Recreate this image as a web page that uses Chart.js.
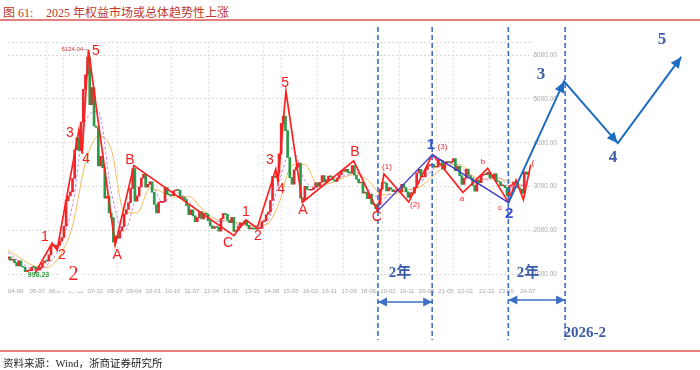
<!DOCTYPE html>
<html><head><meta charset="utf-8">
<script src="https://cdn.jsdelivr.net/npm/chart.js@4.4.1/dist/chart.umd.min.js"></script>
<style>
html,body{margin:0;padding:0;background:#fff;}
#wrap{position:relative;width:700px;height:370px;overflow:hidden;background:#fff;}
.t{position:absolute;top:3px;font:12px "Liberation Serif","Noto Sans CJK SC",serif;color:#c0392b;white-space:pre;}
#rule1{position:absolute;left:0;top:19px;width:700px;height:2px;background:#e88080;}
#rule2{position:absolute;left:0;top:350px;width:700px;height:2px;background:#e88080;}
#src{position:absolute;left:3px;top:355px;font:10.5px "Liberation Serif","Noto Sans CJK SC",serif;color:#222;}
canvas{position:absolute;left:0;top:0;}
</style></head>
<body><div id="wrap">
<div class="t" style="left:3px">图 61:</div>
<div class="t" style="left:46px">2025 年权益市场或总体趋势性上涨</div>
<div id="rule1"></div>
<canvas id="c" width="700" height="370"></canvas>
<div id="rule2"></div>
<div id="src">资料来源：Wind，浙商证券研究所</div>
</div>
<script>
// ---- data ----
const tickLabels = ['04-09','05-07','06-04','07-01','07-10','08-07','09-04','10-01','10-10','11-07','12-04','13-01','13-11','14-08','15-05','16-02','16-11','17-08','18-05','19-02','19-11','20-08','21-05','22-02','22-12','23-09','24-07'];
const yTicks = [1000,2000,3000,4000,5000,6000,6300];
const gridMonths = [18,26,51,76,93,119,127,144,156,174,182,199,207,224];
const firstOpen = 1342;
// monthly closes, 2004-09 .. 2024-11
const closes = [
1397,1320,1341,1266,
1192,1306,1181,1159,1061,1081,1083,1163,1156,1093,1099,1161,
1258,1299,1298,1440,1641,1672,1613,1659,1752,1838,2099,2676,
2786,2881,3184,3841,4110,3821,4471,5219,5552,5955,4872,5262,
4383,4349,3473,3693,3433,2736,2776,2397,2294,1729,1871,1821,
1991,2083,2373,2478,2633,2959,3412,2668,2779,2996,3195,3277,
2989,3052,3109,2871,2592,2398,2638,2639,2656,2979,2820,2808,
2791,2905,2928,2912,2744,2762,2702,2567,2359,2468,2333,2199,
2293,2429,2263,2396,2372,2225,2104,2048,2086,2069,1980,2269,
2385,2366,2237,2178,2301,1979,1994,2098,2175,2142,2221,2116,
2033,2056,2033,2026,2039,2048,2202,2217,2364,2420,2683,3235,
3210,3310,3748,4442,4612,4277,3664,3206,3053,3383,3445,3539,
2738,2688,3004,2938,2917,2930,2979,3086,3005,3100,3250,3104,
3159,3242,3223,3155,3117,3192,3273,3361,3349,3393,3317,3307,
3481,3259,3169,3082,3096,2847,2876,2725,2821,2603,2588,2494,
2585,2941,3091,3078,2899,2979,2933,2886,2905,2929,2872,3050,
2977,2880,2750,2860,2852,2985,3310,3396,3218,3225,3392,3473,
3483,3509,3442,3447,3615,3591,3397,3544,3568,3547,3564,3640,
3361,3462,3252,3047,3186,3399,3253,3202,3024,2894,3151,3089,
3256,3280,3273,3323,3205,3202,3291,3120,3111,3019,3030,2975,
2789,3015,3041,3105,3087,2967,2939,2842,3336,3280,3326
];
const maMonths = [0,6,12,18,24,30,36,42,48,54,60,66,72,78,84,90,96,102,108,114,120,126,132,138,144,150,156,162,168,174,180,186,192,198,204,210,216,222,228,234,240];
const maPurple = [1500,1267,1116,1201,1629,2577,4502,4715,2888,1978,2821,3103,2632,2872,2674,2331,2205,2218,2121,2100,2149,3101,3876,3133,2976,3180,3241,3321,2908,2717,2947,2910,3104,3421,3527,3471,3185,3157,3209,2978,3046];
const maOrange = [1550,1358,1192,1159,1415,2103,3539,4150,3850,2433,2400,2962,2868,2752,2773,2502,2268,2211,2169,2110,2125,2625,3488,3504,3054,3078,3210,3281,3114,2812,2832,2928,3007,3262,3474,3499,3245,3171,3183,3093,3012];
// Elliott wave path (red)
const redWaveM = [12.5,20.5,22.8,33,34.5,37.4,49.8,58.5,105,110.6,115.8,124.5,125.5,129.2,136.8,160.7,171.8,174.8,186.3,197.3,211.5,223,232.7,236.2,239.6,243];
const redWaveV = [1020,1712,1553,4300,3750,6124,1664,3478,1880,2240,2050,3400,3100,5178,2638,3587,2440,3288,2646,3731,2863,3418,2635,3150,2700,3500];
// blue wave C-1-2
const blueWaveM = [171.8,197.3,232.7];
const blueWaveV = [2440,3731,2635];
// projection 2 -> 3 -> 4 -> 5
const projM = [232.7,258.5,283.5,313];
const projV = [2635,5400,3990,5960];
// vertical dashed markers and 2-year spans
const markerMonths = [172,197.2,232.6,259];
const markerTop = 6640, markerBottom = -500;
const span1M = [172,197.2], span1V = 365;
const span2M = [232.6,259], span2V = 410;
// labels [text, month, value]
const redBigLabels = [['1',17.2,1849],['2',25.1,1438],['3',28.8,4224],['4',36.3,3630],['5',40.9,6096],['A',50.7,1438],['B',56.7,3607],['C',102.3,1712],['1',110.6,2420],['2',116.2,1872],['3',121.8,3607],['4',127,2945],['5',128.8,5365],['A',137.1,2466],['B',161.3,3790],['C',171.5,2306]];
const redSmallLabels = [['(1)',176.2,3447],['(2)',189.2,2580],['(3)',202,3904],['a',211,2717],['b',220.8,3562],['c',228.7,2511],['(',244,3539]];
const bottom2Label = ['2',30.4,990];
const blueWaveLabels = [['1',196.6,3950],['2',233,2375]];
const projLabels = [['3',247.8,5548],['4',281.3,3653],['5',304,6347]];
const spanLabels = [['2年',182.2,1027],['2年',241.7,1027]];
const dateLabel = ['2026-2',258.3,-342];
const peakLabel = ['6124.04',34.9,6124];
const lowLabel = ['998.23',14.2,975];

// ---- chart ----
const monthOf = s => { const [a,b] = s.split('-').map(Number); return (a-4)*12 + (b-9); };
const tickMonths = tickLabels.map(monthOf);
const opens = closes.map((c,i)=> i===0 ? firstOpen : closes[i-1]);
const UP='#e8292f', DOWN='#2a9a48';
const pts = (ms, vs) => ms.map((m,i)=>({x:m, y: Array.isArray(vs)? vs[i] : vs}));

const markerSets = markerMonths.map(m => ({
  type:'line', data:[{x:m,y:markerTop},{x:m,y:markerBottom}], borderColor:'#3d6fc4', borderWidth:1.6,
  borderDash:[5,3], pointRadius:0, clip:false, order:1
}));
// projection drawn from its far end back, so every point is laid out even beyond the axis range
const projPts = pts(projM,projV).reverse();

const labelPlugin = {
  id:'labels',
  afterDatasetsDraw(chart){
    const ctx = chart.ctx, xs = chart.scales.x, ys = chart.scales.y;
    chart.data.datasets.forEach((ds, di) => {
      if (!ds.arrowAt) return;
      const els = chart.getDatasetMeta(di).data;
      ds.arrowAt.forEach(([t, f]) => {
        const a = els[f], b = els[t];
        const ang = Math.atan2(b.y - a.y, b.x - a.x), L = ds.arrowLen || 10, W = ds.arrowHalf || 4.5;
        const c = Math.cos(ang), s = Math.sin(ang);
        ctx.save(); ctx.fillStyle = ds.borderColor; ctx.beginPath();
        ctx.moveTo(b.x, b.y);
        ctx.lineTo(b.x - L*c + W*s, b.y - L*s - W*c);
        ctx.lineTo(b.x - L*c - W*s, b.y - L*s + W*c);
        ctx.closePath(); ctx.fill(); ctx.restore();
      });
    });
    const put = (L, font, color, align) => {
      ctx.save(); ctx.font = font; ctx.fillStyle = color; ctx.textAlign = align||'center'; ctx.textBaseline='middle';
      ctx.fillText(L[0], xs.getPixelForValue(L[1]), ys.getPixelForValue(L[2])); ctx.restore();
    };
    redBigLabels.forEach(L=>put(L,'14px "Liberation Sans", Arial, sans-serif','#f01e1e'));
    redSmallLabels.forEach(L=>put(L,'8px "Liberation Sans", Arial, sans-serif','#e8262d'));
    const bx = xs.getPixelForValue(bottom2Label[1]), by = ys.getPixelForValue(bottom2Label[2]);
    ctx.save(); ctx.fillStyle='#fff'; ctx.fillRect(bx-15, by-14, 25, 31); ctx.restore();
    put(bottom2Label,'20px "Liberation Serif", serif','#f01e1e');
    blueWaveLabels.forEach(L=>put(L,'bold 15px "Liberation Sans", Arial, sans-serif','#3a52c8'));
    projLabels.forEach(L=>put(L,'bold 17px "Liberation Serif", serif','#3b5ca8'));
    spanLabels.forEach(L=>put(L,'bold 15px "Liberation Serif","Noto Sans CJK SC", serif','#3b5ca8'));
    put(dateLabel,'bold 15px "Liberation Serif", serif','#3b5ca8','left');
    put(peakLabel,'6px "Liberation Sans", Arial, sans-serif','#d23030','right');
    put(lowLabel,'bold 7px "Liberation Sans", Arial, sans-serif','#2e9e3e');
  }
};

new Chart(document.getElementById('c'), {
  type:'line',
  data:{ datasets:[
    {type:'line', data:pts(maMonths,maOrange), borderColor:'#f3bb5e', borderWidth:1, pointRadius:0, cubicInterpolationMode:'monotone', order:9},
    {type:'line', data:pts(maMonths,maPurple), borderColor:'#c58be2', borderWidth:1, borderDash:[3,2], pointRadius:0, cubicInterpolationMode:'monotone', order:8},
    {type:'bar', data:closes.map((c,i)=>({x:i, y:[opens[i], c]})), backgroundColor:closes.map((c,i)=> c>=opens[i]?UP:DOWN),
      barThickness:2, minBarLength:1, grouped:false, order:7},
    {type:'line', data:pts(redWaveM,redWaveV), borderColor:'#ff1f1f', borderWidth:1.7, pointRadius:0, order:3},
    {type:'line', data:pts(blueWaveM,blueWaveV), borderColor:'#3b3bd0', borderWidth:1.4, pointRadius:0, order:2},
    {type:'line', data:[{x:35.2,y:6124},{x:37.2,y:6124}], borderColor:'#999', borderWidth:0.8, pointRadius:0, order:2},
    {type:'line', data:projPts, borderColor:'#1f6dc1', borderWidth:2, clip:false, pointRadius:0,
      arrowAt:[[2,3],[1,2],[0,1]], arrowLen:11, arrowHalf:5, order:1},
    ...markerSets,
    {type:'line', data:pts(span1M,span1V), borderColor:'#3d6fc4', borderWidth:1.6, clip:false, pointRadius:0,
      arrowAt:[[0,1],[1,0]], arrowLen:9, arrowHalf:4.5, order:1},
    {type:'line', data:pts(span2M,span2V).reverse(), borderColor:'#3d6fc4', borderWidth:1.6, clip:false, pointRadius:0,
      arrowAt:[[0,1],[1,0]], arrowLen:9, arrowHalf:4.5, order:1}
  ]},
  options:{
    responsive:false, animation:false, events:[], devicePixelRatio:1,
    layout:{padding:{left:8, top:42, right:167, bottom:91.4}},
    plugins:{legend:{display:false}, tooltip:{enabled:false}},
    scales:{
      x:{type:'linear', min:0, max:244.07, offset:false, position:{y:900},
        afterBuildTicks:s=>{ s.ticks = tickMonths.map(v=>({value:v})); },
        ticks:{autoSkip:false, maxRotation:0, align:'start', padding:1, color:'#a8a8a8',
          font:{size:6, family:'"Liberation Sans Narrow","Liberation Sans", sans-serif'}, callback:(v,i)=>tickLabels[i]},
        grid:{display:false, offset:false}, border:{display:false}},
      xg:{type:'linear', min:0, max:244.07, offset:false, position:{y:900},
        afterBuildTicks:s=>{ s.ticks = gridMonths.map(v=>({value:v})); },
        ticks:{display:false}, grid:{color:'#e2e2e2', lineWidth:1, drawTicks:false, offset:false}, border:{display:false, dash:[2,2]}},
      y:{type:'linear', min:900, max:6300, position:{x:255.2},
        afterBuildTicks:s=>{ s.ticks = yTicks.map(v=>({value:v})); },
        ticks:{autoSkip:false, padding:0, color:'#a8a8a8', font:{size:6.5, family:'"Liberation Sans Narrow","Liberation Sans", sans-serif'},
          callback:v=> v===6300 ? '' : v.toFixed(2)},
        grid:{color:'#dadada', lineWidth:1, drawTicks:false}, border:{display:false, dash:[2,2]}}
    }
  },
  plugins:[labelPlugin]
});
</script>
</body></html>
